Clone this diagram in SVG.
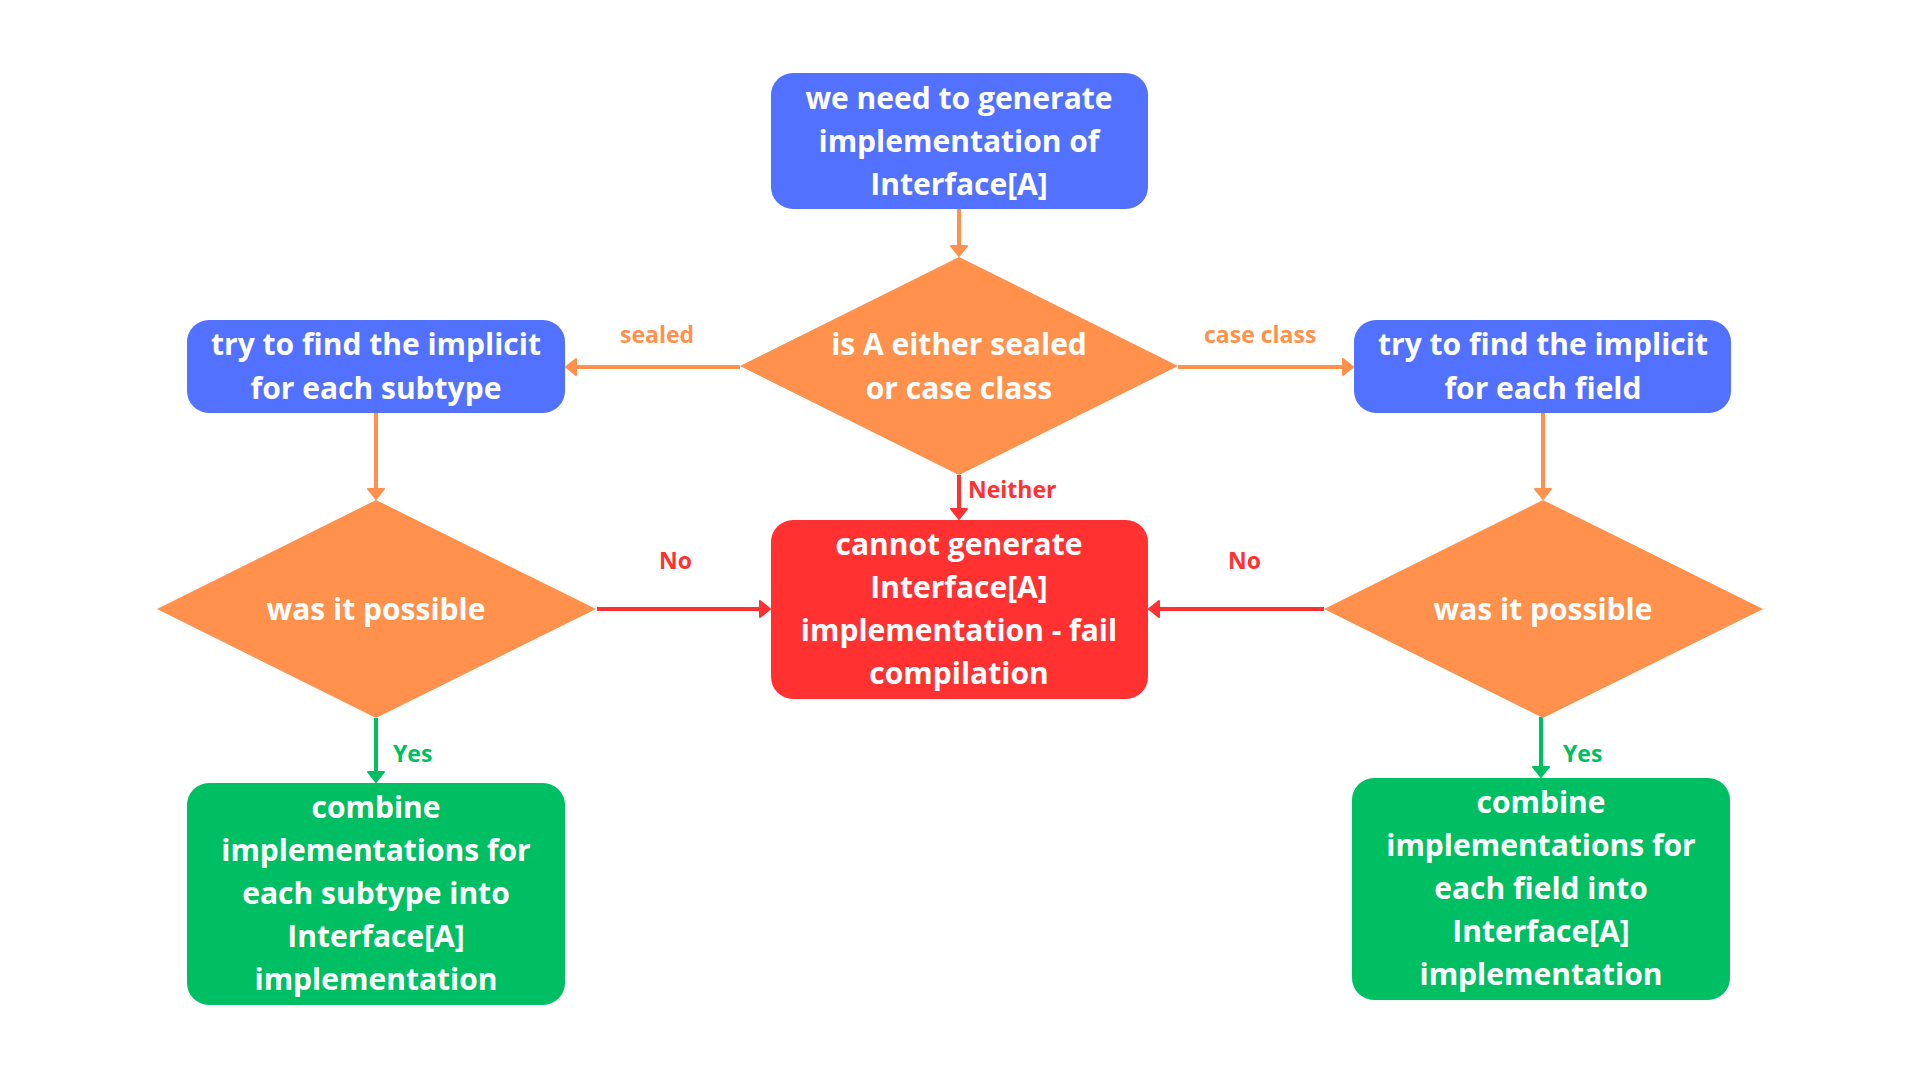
<svg xmlns="http://www.w3.org/2000/svg" width="1920" height="1080" viewBox="0 0 1920 1080">
<defs>
<style>
.t{font-family:"Open Sans","Liberation Sans",sans-serif;font-weight:700;font-size:30px;fill:#ffffff;text-anchor:middle;font-variant-ligatures:none}
.l{font-family:"Open Sans","Liberation Sans",sans-serif;font-weight:700;font-size:23px;font-variant-ligatures:none}
.blue{fill:#5271FF}.orange{fill:#FF914D}.red{fill:#FF3131}.green{fill:#00BF63}
.co{stroke:#FF914D;stroke-width:4;fill:none}
.cr{stroke:#FF3131;stroke-width:4;fill:none}
.cg{stroke:#00BF63;stroke-width:4;fill:none}
</style>
<marker id="ao" viewBox="0 0 12 18" refX="6" refY="9" markerWidth="12" markerHeight="18" markerUnits="userSpaceOnUse" orient="auto"><path d="M1,1 L11,9 L1,17 z" fill="#FF914D" stroke="#FF914D" stroke-width="2" stroke-linejoin="round"/></marker>
<marker id="ar" viewBox="0 0 12 18" refX="6" refY="9" markerWidth="12" markerHeight="18" markerUnits="userSpaceOnUse" orient="auto"><path d="M1,1 L11,9 L1,17 z" fill="#FF3131" stroke="#FF3131" stroke-width="2" stroke-linejoin="round"/></marker>
<marker id="ag" viewBox="0 0 12 18" refX="6" refY="9" markerWidth="12" markerHeight="18" markerUnits="userSpaceOnUse" orient="auto"><path d="M1,1 L11,9 L1,17 z" fill="#00BF63" stroke="#00BF63" stroke-width="2" stroke-linejoin="round"/></marker>
</defs>
<rect width="1920" height="1080" fill="#ffffff"/>

<g id="connectors">
<line class="co" x1="959" y1="209" x2="959" y2="251" marker-end="url(#ao)"/>
<line class="co" x1="740" y1="367" x2="571" y2="367" marker-end="url(#ao)"/>
<line class="co" x1="1178" y1="367" x2="1348" y2="367" marker-end="url(#ao)"/>
<line class="cr" x1="959" y1="475" x2="959" y2="514" marker-end="url(#ar)"/>
<line class="co" x1="376" y1="413" x2="376" y2="494" marker-end="url(#ao)"/>
<line class="co" x1="1543" y1="413" x2="1543" y2="494" marker-end="url(#ao)"/>
<line class="cr" x1="597" y1="609" x2="765" y2="609" marker-end="url(#ar)"/>
<line class="cr" x1="1324" y1="609" x2="1154" y2="609" marker-end="url(#ar)"/>
<line class="cg" x1="376" y1="718" x2="376" y2="777" marker-end="url(#ag)"/>
<line class="cg" x1="1541" y1="717" x2="1541" y2="772" marker-end="url(#ag)"/>
<text class="l" x="620" y="343" fill="#FF914D">sealed</text>
<text class="l" x="1204" y="343" fill="#FF914D">case class</text>
<text class="l" x="968" y="498" fill="#FF3131">Neither</text>
<text class="l" x="659" y="569" fill="#FF3131">No</text>
<text class="l" x="1228" y="569" fill="#FF3131">No</text>
<text class="l" x="393" y="762" fill="#00BF63">Yes</text>
<text class="l" x="1563" y="762" fill="#00BF63">Yes</text>
</g>

<g id="start">
<rect class="blue" x="771" y="73" width="377" height="136" rx="22"/>
<text class="t" x="959" y="109">we need to generate</text>
<text class="t" x="959" y="152">implementation of</text>
<text class="t" x="959" y="195">Interface[A]</text>
</g>

<g id="decision-kind">
<polygon class="orange" points="959,257 1178,366 959,475 740,366"/>
<text class="t" x="959" y="355">is A either sealed</text>
<text class="t" x="959" y="399">or case class</text>
</g>

<g id="find-subtype">
<rect class="blue" x="187" y="320" width="378" height="93" rx="22"/>
<text class="t" x="376" y="355">try to find the implicit</text>
<text class="t" x="376" y="399">for each subtype</text>
</g>

<g id="find-field">
<rect class="blue" x="1354" y="320" width="377" height="93" rx="22"/>
<text class="t" x="1543" y="355">try to find the implicit</text>
<text class="t" x="1543" y="399">for each field</text>
</g>

<g id="possible-left">
<polygon class="orange" points="376,500 596,609 376,718 157,609"/>
<text class="t" x="376" y="620">was it possible</text>
</g>

<g id="possible-right">
<polygon class="orange" points="1543,500 1763,609 1543,718 1324,609"/>
<text class="t" x="1543" y="620">was it possible</text>
</g>

<g id="fail">
<rect class="red" x="771" y="520" width="377" height="179" rx="22"/>
<text class="t" x="959" y="555">cannot generate</text>
<text class="t" x="959" y="598">Interface[A]</text>
<text class="t" x="959" y="641">implementation - fail</text>
<text class="t" x="959" y="684">compilation</text>
</g>

<g id="combine-subtype">
<rect class="green" x="187" y="783" width="378" height="222" rx="22"/>
<text class="t" x="376" y="818">combine</text>
<text class="t" x="376" y="861">implementations for</text>
<text class="t" x="376" y="904">each subtype into</text>
<text class="t" x="376" y="947">Interface[A]</text>
<text class="t" x="376" y="990">implementation</text>
</g>

<g id="combine-field">
<rect class="green" x="1352" y="778" width="378" height="222" rx="22"/>
<text class="t" x="1541" y="813">combine</text>
<text class="t" x="1541" y="856">implementations for</text>
<text class="t" x="1541" y="899">each field into</text>
<text class="t" x="1541" y="942">Interface[A]</text>
<text class="t" x="1541" y="985">implementation</text>
</g>
</svg>
